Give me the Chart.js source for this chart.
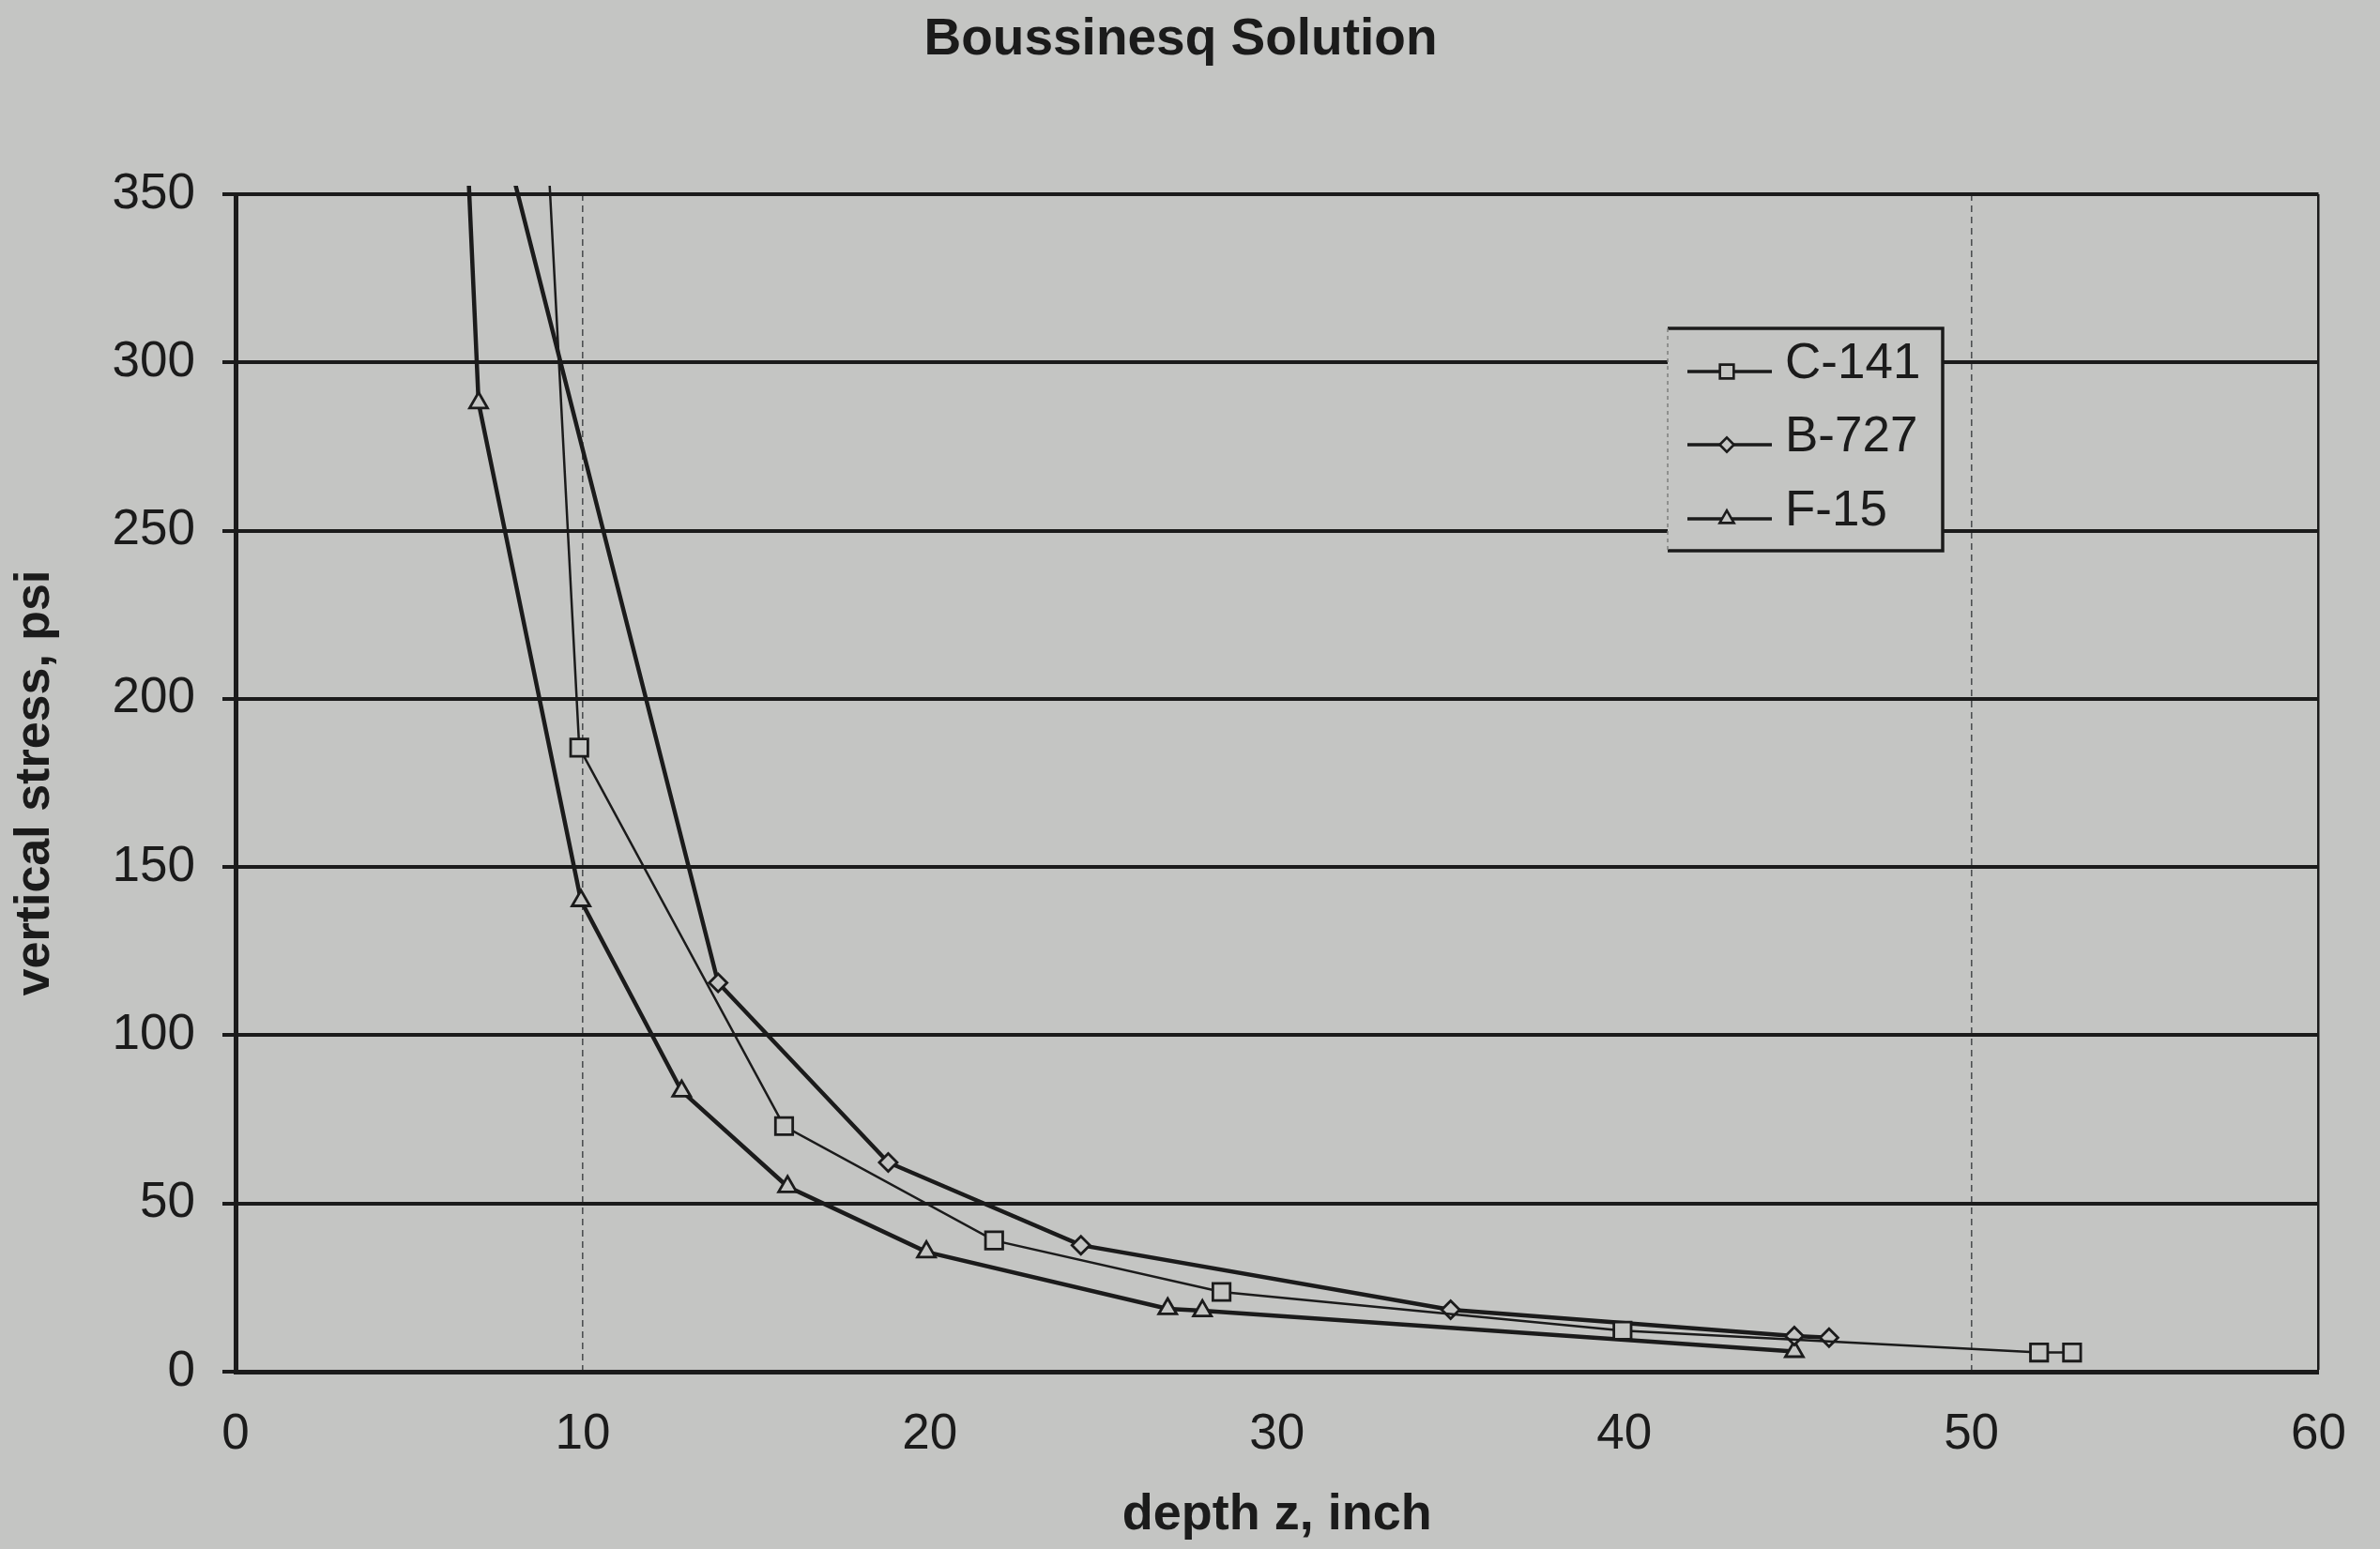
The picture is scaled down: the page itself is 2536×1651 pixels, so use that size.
<!DOCTYPE html>
<html>
<head>
<meta charset="utf-8">
<title>Boussinesq Solution</title>
<script src="https://cdn.jsdelivr.net/npm/chart.js@4.4.1/dist/chart.umd.min.js"></script>
<style>
    html, body { margin: 0; padding: 0; background: #c4c5c3; }
    #wrap { width: 2536px; height: 1651px; }
</style>
</head>
<body>
<div id="wrap"><canvas id="myChart" width="2536" height="1651"></canvas></div>
<script>
// depth z (inch) / vertical stress (psi).
// the first point of each series is above the 350 top, only its line shows
const c141Depth = [8.5, 9.9, 15.8, 21.85, 28.4, 39.95, 51.95, 52.9];
const c141Stress = [460, 185.5, 73, 39, 23.7, 12.2, 5.7, 5.7];

const b727Depth = [7.0, 13.9, 18.8, 24.35, 35.0, 44.9, 45.9];
const b727Stress = [396, 115.6, 62.2, 37.6, 18.4, 10.6, 10.1];

const f15Depth = [6.5, 7.0, 9.95, 12.85, 15.9, 19.9, 26.85, 27.85, 44.9];
const f15Stress = [404, 288, 140, 83.4, 55, 35.6, 18.7, 18.1, 6.0];

const seriesNames = ['C-141', 'B-727', 'F-15'];
const xTicks = [0, 10, 20, 30, 40, 50, 60];
const yTicks = [0, 50, 100, 150, 200, 250, 300, 350];

const BG = '#c4c5c3';
const INK = '#1b1b1b';
const FONT = "'Liberation Sans', Arial, sans-serif";

function toPoints(xs, ys) {
    return xs.map((x, i) => ({ x: x, y: ys[i] }));
}

function isDashTick(c) {
    return c.tick && (c.tick.value === 10 || c.tick.value === 50);
}

const lineClip = { left: 4, top: 9, right: 4, bottom: 4 };

const datasets = [
    {
        label: seriesNames[0],
        data: toPoints(c141Depth, c141Stress),
        borderColor: INK,
        borderWidth: 2.5,
        pointStyle: 'rect',
        pointRadius: 13,
        pointBorderWidth: 2.8,
        pointBackgroundColor: BG,
        pointBorderColor: INK,
        clip: lineClip,
    },
    {
        label: seriesNames[1],
        data: toPoints(b727Depth, b727Stress),
        borderColor: INK,
        borderWidth: 4.5,
        pointStyle: 'rectRot',
        pointRadius: 9.5,
        pointBorderWidth: 2.8,
        pointBackgroundColor: BG,
        pointBorderColor: INK,
        clip: lineClip,
    },
    {
        label: seriesNames[2],
        data: toPoints(f15Depth, f15Stress),
        borderColor: INK,
        borderWidth: 4.5,
        pointStyle: 'triangle',
        pointRadius: 11,
        pointBorderWidth: 2.8,
        pointBackgroundColor: BG,
        pointBorderColor: INK,
        clip: lineClip,
    },
];

// paper colour behind everything
const paper = {
    id: 'paper',
    beforeDraw(chart) {
        const ctx = chart.ctx;
        ctx.save();
        ctx.fillStyle = BG;
        ctx.fillRect(0, 0, chart.width, chart.height);
        ctx.restore();
    }
};

// title sits a bit right of the canvas centre, so it is drawn here
const chartTitle = {
    id: 'chartTitle',
    afterDraw(chart) {
        const ctx = chart.ctx;
        ctx.save();
        ctx.fillStyle = INK;
        ctx.font = "bold 55px " + FONT;
        ctx.textAlign = 'center';
        ctx.textBaseline = 'alphabetic';
        ctx.fillText('Boussinesq Solution', 1258, 58);
        ctx.restore();
    }
};

// boxed legend inside the plot, line + marker + name
const boxLegend = {
    id: 'boxLegend',
    afterDatasetsDraw(chart) {
        const ctx = chart.ctx;
        const left = 1777, top = 350, right = 2070, bottom = 587;
        const rows = [396, 474, 553];

        ctx.save();
        ctx.fillStyle = BG;
        ctx.fillRect(left, top, right - left, bottom - top);

        ctx.strokeStyle = INK;
        ctx.lineWidth = 3.5;
        ctx.beginPath();
        ctx.moveTo(left, top);
        ctx.lineTo(right, top);
        ctx.lineTo(right, bottom);
        ctx.lineTo(left, bottom);
        ctx.stroke();
        // left edge is faint in the scan
        ctx.strokeStyle = '#7d7f7e';
        ctx.lineWidth = 1.5;
        ctx.setLineDash([4, 4]);
        ctx.beginPath();
        ctx.moveTo(left, top);
        ctx.lineTo(left, bottom);
        ctx.stroke();
        ctx.setLineDash([]);

        chart.data.datasets.forEach((ds, i) => {
            const y = rows[i];
            ctx.strokeStyle = ds.borderColor;
            ctx.lineWidth = 3.5;
            ctx.beginPath();
            ctx.moveTo(1798, y);
            ctx.lineTo(1888, y);
            ctx.stroke();

            ctx.fillStyle = BG;
            ctx.strokeStyle = INK;
            ctx.lineWidth = 2.6;
            if (Chart.helpers && Chart.helpers.drawPoint) {
                Chart.helpers.drawPoint(ctx, {
                    pointStyle: ds.pointStyle,
                    radius: ds.pointRadius * 0.8,
                    rotation: 0,
                    borderWidth: 2.6,
                }, 1840, y);
            }

            ctx.fillStyle = INK;
            ctx.font = "53px " + FONT;
            ctx.textAlign = 'left';
            ctx.textBaseline = 'middle';
            ctx.fillText(ds.label, 1902, y - 8);
        });
        ctx.restore();
    }
};

function makeGraph(ctx) {
    const options = {
        responsive: false,
        animation: false,
        events: [],
        layout: {
            padding: { top: 207, right: 65, bottom: 0, left: 0 }
        },
        scales: {
            x: {
                type: 'linear',
                min: 0,
                max: 60,
                afterBuildTicks: (s) => { s.ticks = xTicks.map(v => ({ value: v })); },
                afterFit: (s) => { s.height = 189; },
                grid: {
                    drawTicks: false,
                    color: (c) => {
                        if (c.tick && c.tick.value === 60) return INK;
                        if (isDashTick(c)) return '#4e5052';
                        return 'rgba(0,0,0,0)';
                    },
                    lineWidth: (c) => {
                        if (c.tick && c.tick.value === 60) return 2.5;
                        if (isDashTick(c)) return 1.6;
                        return 0;
                    },
                },
                border: {
                    color: INK,
                    width: 5,
                    dash: (c) => isDashTick(c) ? [7, 5] : [],
                },
                ticks: {
                    color: INK,
                    font: { family: FONT, size: 53 },
                    padding: 36,
                },
                title: {
                    display: true,
                    text: 'depth z, inch',
                    color: INK,
                    font: { family: FONT, size: 54, weight: 'bold' },
                    padding: { top: 0, bottom: 3 },
                },
            },
            y: {
                type: 'linear',
                min: 0,
                max: 350,
                afterBuildTicks: (s) => { s.ticks = yTicks.map(v => ({ value: v })); },
                afterFit: (s) => { s.width = 251; },
                grid: {
                    color: INK,
                    lineWidth: 4,
                    drawTicks: true,
                    tickLength: 14,
                    tickColor: INK,
                    tickWidth: 4,
                },
                border: {
                    color: INK,
                    width: 5,
                },
                ticks: {
                    color: INK,
                    font: { family: FONT, size: 53 },
                    padding: 29,
                },
                title: {
                    display: true,
                    text: 'vertical stress, psi',
                    color: INK,
                    font: { family: FONT, size: 52, weight: 'bold' },
                    padding: { top: 6, bottom: 0 },
                },
            },
        },
        plugins: {
            legend: { display: false },
            tooltip: { enabled: false },
            title: { display: false },
        },
    };

    return new Chart(ctx, {
        type: 'scatter',
        data: { datasets: datasets },
        options: options,
        plugins: [paper, boxLegend, chartTitle],
    });
}

Chart.defaults.datasets.scatter.showLine = true;
let myGraph = makeGraph(document.getElementById('myChart'));
</script>
</body>
</html>
